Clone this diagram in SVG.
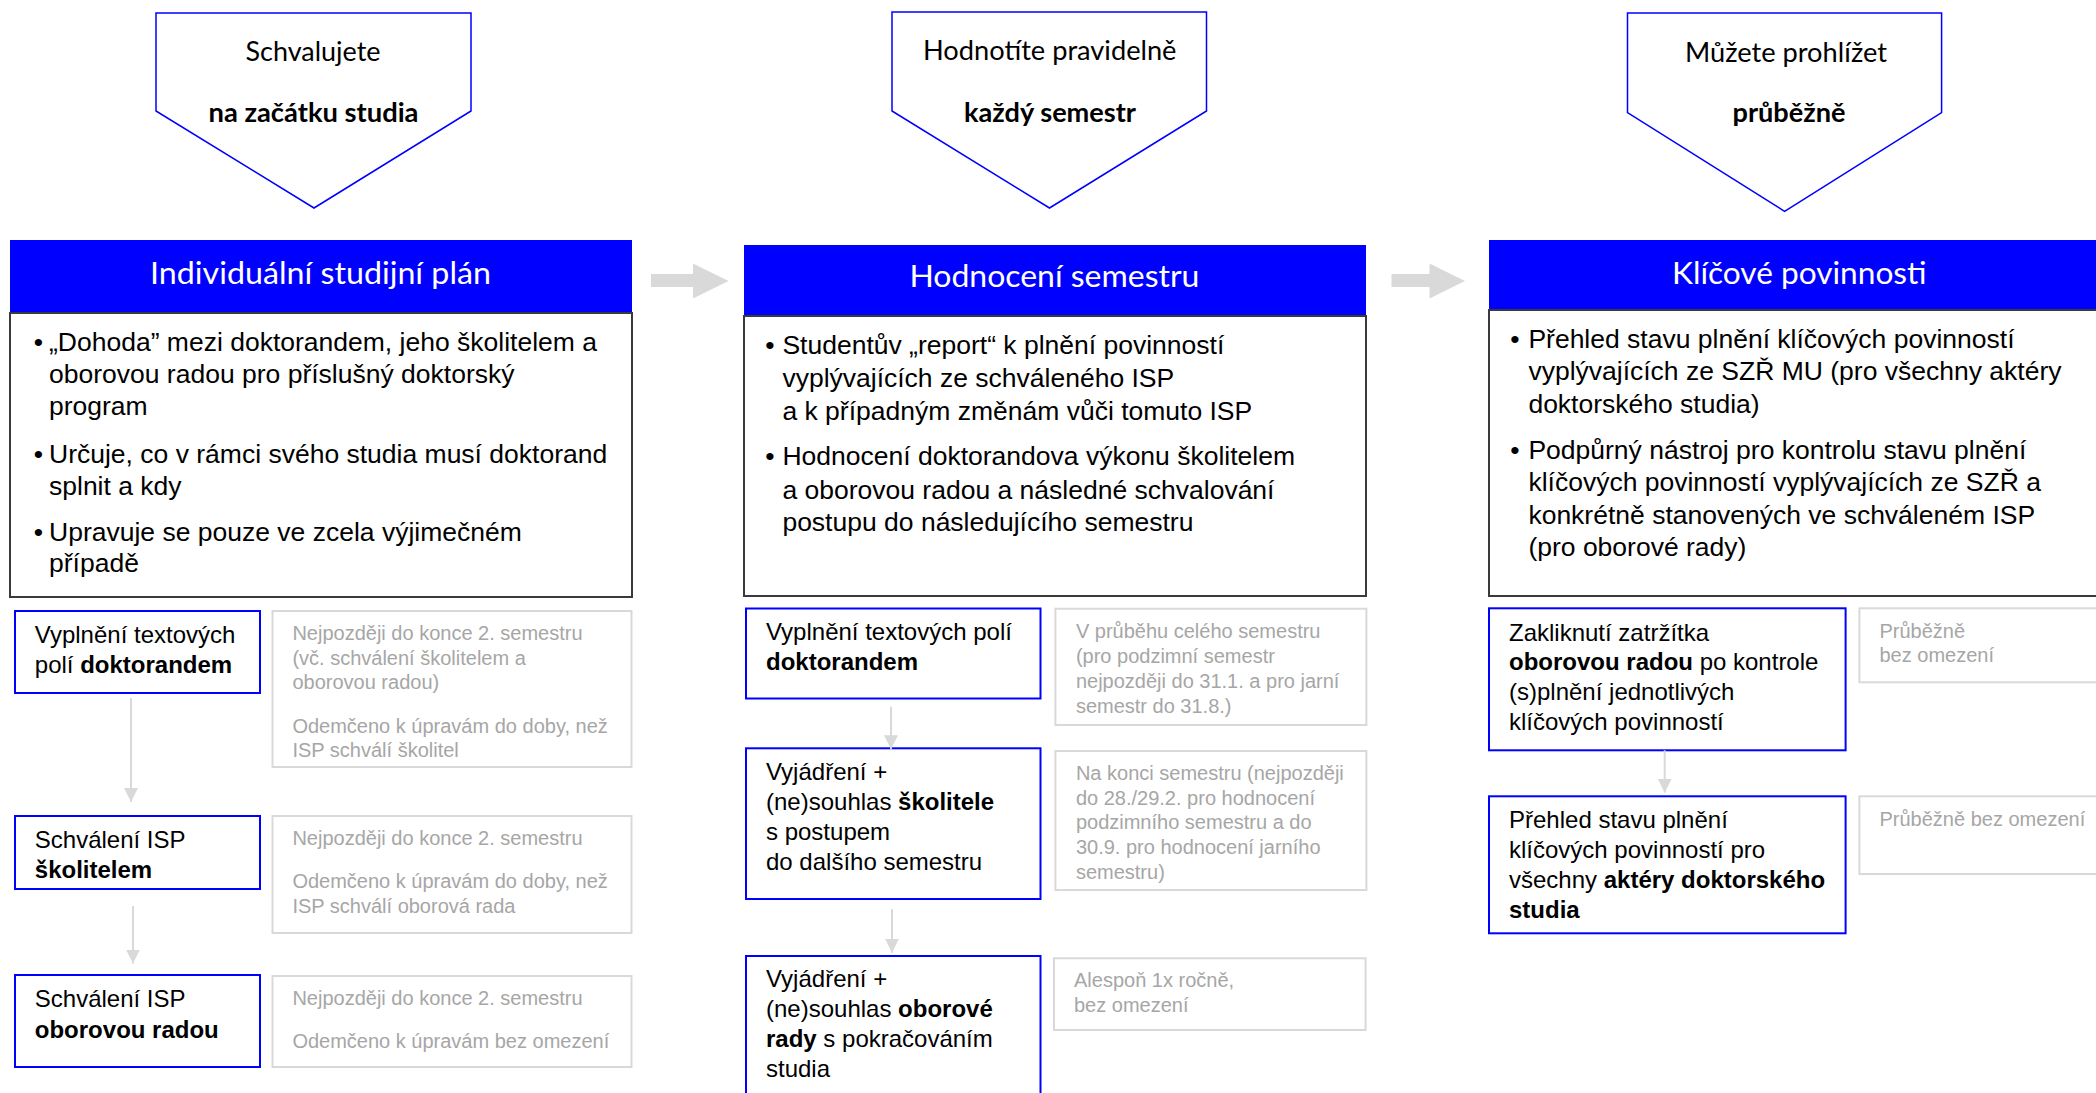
<svg xmlns="http://www.w3.org/2000/svg" width="2096" height="1093" viewBox="0 0 2096 1093">
<style>
.pent{fill:#fff;stroke:#0000ff;stroke-width:1.5}
.ptxt{font-family:Lato,"Open Sans",sans-serif;font-size:27px;fill:#000}
.pb{font-weight:bold}
.hdr{fill:#0000ff}
.htxt{font-family:Lato,"Open Sans",sans-serif;font-size:31px;fill:#fff}
.body{fill:#fff;stroke:#3a3a3a;stroke-width:2}
.btxt{font-family:"Liberation Sans",Arial,sans-serif;font-size:26.5px;fill:#000}
.step{fill:#fff;stroke:#0000ff;stroke-width:2}
.stxt{font-family:"Liberation Sans",Arial,sans-serif;font-size:24px;fill:#000}
.note{fill:#fff;stroke:#d9d9d9;stroke-width:2}
.ntxt{font-family:"Liberation Sans",Arial,sans-serif;font-size:20px;fill:#a6a6a6}
.b{font-weight:bold}
.conn{stroke:#d9d9d9;stroke-width:2;fill:none}
.block{fill:#d9d9d9}
</style>
<defs>
<marker id="ah" markerUnits="userSpaceOnUse" markerWidth="14" markerHeight="14" refX="14" refY="7" orient="auto">
<path d="M0,0 L14,7 L0,14 z" fill="#d9d9d9"/>
</marker>
</defs>

<!-- Column 1 -->
<g id="pent1">
<polygon class="pent" points="156,13 471,13 471,111 314,208 156,111"/>
<text class="ptxt" x="245.5" y="61" textLength="135" lengthAdjust="spacingAndGlyphs">Schvalujete</text>
<text class="ptxt pb" x="208.5" y="122" textLength="210" lengthAdjust="spacingAndGlyphs">na začátku studia</text>
</g>
<g id="isp">
<rect class="hdr" x="10" y="240" width="622" height="72"/>
<text class="htxt" x="150" y="284" textLength="341" lengthAdjust="spacingAndGlyphs">Individuální studijní plán</text>
<rect class="body" x="10" y="313" width="622" height="284"/>
<text class="btxt" x="38.5" y="350.7" text-anchor="middle">•</text>
<text class="btxt" x="49" y="350.7">„Dohoda” mezi doktorandem, jeho školitelem a</text>
<text class="btxt" x="49" y="383.3">oborovou radou pro příslušný doktorský</text>
<text class="btxt" x="49" y="415">program</text>
<text class="btxt" x="38.5" y="463.3" text-anchor="middle">•</text>
<text class="btxt" x="49" y="463.3">Určuje, co v rámci svého studia musí doktorand</text>
<text class="btxt" x="49" y="495">splnit a kdy</text>
<text class="btxt" x="38.5" y="540.7" text-anchor="middle">•</text>
<text class="btxt" x="49" y="540.7">Upravuje se pouze ve zcela výjimečném</text>
<text class="btxt" x="49" y="571.7">případě</text>
</g>
<g id="isp-step1">
<rect class="step" x="15" y="611" width="245" height="82"/>
<text class="stxt" x="34.8" y="643.3">Vyplnění textových</text>
<text class="stxt" x="34.8" y="673.3">polí <tspan class="b">doktorandem</tspan></text>
</g>
<g id="isp-note1">
<rect class="note" x="272.5" y="611" width="359" height="156"/>
<text class="ntxt" x="292.4" y="640">Nejpozději do konce 2. semestru</text>
<text class="ntxt" x="292.4" y="665">(vč. schválení školitelem a</text>
<text class="ntxt" x="292.4" y="689.3">oborovou radou)</text>
<text class="ntxt" x="292.4" y="732.7">Odemčeno k úpravám do doby, než</text>
<text class="ntxt" x="292.4" y="756.7">ISP schválí školitel</text>
</g>
<g id="isp-step2">
<rect class="step" x="15" y="816" width="245" height="73"/>
<text class="stxt" x="34.8" y="848.3">Schválení ISP</text>
<text class="stxt b" x="34.8" y="878.3">školitelem</text>
</g>
<g id="isp-note2">
<rect class="note" x="272.5" y="816" width="359" height="117"/>
<text class="ntxt" x="292.4" y="845">Nejpozději do konce 2. semestru</text>
<text class="ntxt" x="292.4" y="888.3">Odemčeno k úpravám do doby, než</text>
<text class="ntxt" x="292.4" y="913.3">ISP schválí oborová rada</text>
</g>
<g id="isp-step3">
<rect class="step" x="15" y="975" width="245" height="92"/>
<text class="stxt" x="34.8" y="1007.3">Schválení ISP</text>
<text class="stxt b" x="34.8" y="1038.3">oborovou radou</text>
</g>
<g id="isp-note3">
<rect class="note" x="272.5" y="976" width="359" height="91"/>
<text class="ntxt" x="292.4" y="1005">Nejpozději do konce 2. semestru</text>
<text class="ntxt" x="292.4" y="1048.3">Odemčeno k úpravám bez omezení</text>
</g>

<!-- Column 2 -->
<g id="pent2">
<polygon class="pent" points="892,12 1206.5,12 1206.5,111 1049.5,208 892,111"/>
<text class="ptxt" x="923" y="60.4" textLength="253.5" lengthAdjust="spacingAndGlyphs">Hodnotíte pravidelně</text>
<text class="ptxt pb" x="964" y="121.5" textLength="172" lengthAdjust="spacingAndGlyphs">každý semestr</text>
</g>
<g id="sem">
<rect class="hdr" x="744" y="245" width="622" height="71"/>
<text class="htxt" x="909.4" y="287.4" textLength="290" lengthAdjust="spacingAndGlyphs">Hodnocení semestru</text>
<rect class="body" x="744" y="316" width="622" height="280"/>
<text class="btxt" x="770" y="353.5" text-anchor="middle">•</text>
<text class="btxt" x="782.4" y="353.5">Studentův „report“ k plnění povinností</text>
<text class="btxt" x="782.4" y="386.7">vyplývajících ze schváleného ISP</text>
<text class="btxt" x="782.4" y="420.3">a k případným změnám vůči tomuto ISP</text>
<text class="btxt" x="770" y="465.4" text-anchor="middle">•</text>
<text class="btxt" x="782.4" y="465.4">Hodnocení doktorandova výkonu školitelem</text>
<text class="btxt" x="782.4" y="498.7">a oborovou radou a následné schvalování</text>
<text class="btxt" x="782.4" y="531">postupu do následujícího semestru</text>
</g>
<g id="sem-step1">
<rect class="step" x="746" y="608.5" width="294.5" height="90"/>
<text class="stxt" x="766" y="640">Vyplnění textových polí</text>
<text class="stxt b" x="766" y="670">doktorandem</text>
</g>
<g id="sem-note1">
<rect class="note" x="1055.4" y="608.7" width="311" height="116.3"/>
<text class="ntxt" x="1075.9" y="638.3">V průběhu celého semestru</text>
<text class="ntxt" x="1075.9" y="662.7">(pro podzimní semestr</text>
<text class="ntxt" x="1075.9" y="687.7">nejpozději do 31.1. a pro jarní</text>
<text class="ntxt" x="1075.9" y="712.7">semestr do 31.8.)</text>
</g>
<g id="sem-step2">
<rect class="step" x="746" y="748.3" width="294.5" height="150.7"/>
<text class="stxt" x="766" y="780">Vyjádření +</text>
<text class="stxt" x="766" y="810">(ne)souhlas <tspan class="b">školitele</tspan></text>
<text class="stxt" x="766" y="840">s postupem</text>
<text class="stxt" x="766" y="870">do dalšího semestru</text>
</g>
<g id="sem-note2">
<rect class="note" x="1055.4" y="751" width="311" height="139"/>
<text class="ntxt" x="1075.9" y="780">Na konci semestru (nejpozději</text>
<text class="ntxt" x="1075.9" y="805">do 28./29.2. pro hodnocení</text>
<text class="ntxt" x="1075.9" y="829.3">podzimního semestru a do</text>
<text class="ntxt" x="1075.9" y="854.3">30.9. pro hodnocení jarního</text>
<text class="ntxt" x="1075.9" y="879.3">semestru)</text>
</g>
<g id="sem-step3">
<rect class="step" x="746" y="956" width="294.5" height="150"/>
<text class="stxt" x="766" y="987.3">Vyjádření +</text>
<text class="stxt" x="766" y="1017.3">(ne)souhlas <tspan class="b">oborové</tspan></text>
<text class="stxt" x="766" y="1047.3"><tspan class="b">rady</tspan> s pokračováním</text>
<text class="stxt" x="766" y="1077.3">studia</text>
</g>
<g id="sem-note3">
<rect class="note" x="1054" y="958.3" width="311.6" height="71.7"/>
<text class="ntxt" x="1074" y="986.7">Alespoň 1x ročně,</text>
<text class="ntxt" x="1074" y="1011.7">bez omezení</text>
</g>

<!-- Column 3 -->
<g id="pent3">
<polygon class="pent" points="1627.5,13 1941.6,13 1941.6,112.7 1784.6,211.3 1627.5,112.7"/>
<text class="ptxt" x="1685" y="62" textLength="202" lengthAdjust="spacingAndGlyphs">Můžete prohlížet</text>
<text class="ptxt pb" x="1732.5" y="122" textLength="113" lengthAdjust="spacingAndGlyphs">průběžně</text>
</g>
<g id="kp">
<rect class="hdr" x="1489" y="240" width="622" height="70"/>
<text class="htxt" x="1672" y="283.5" textLength="254.5" lengthAdjust="spacingAndGlyphs">Klíčové povinnosti</text>
<rect class="body" x="1489" y="310" width="622" height="286"/>
<text class="btxt" x="1515" y="347.7" text-anchor="middle">•</text>
<text class="btxt" x="1528.4" y="347.7">Přehled stavu plnění klíčových povinností</text>
<text class="btxt" x="1528.4" y="380.2">vyplývajících ze SZŘ MU (pro všechny aktéry</text>
<text class="btxt" x="1528.4" y="412.7">doktorského studia)</text>
<text class="btxt" x="1515" y="458.5" text-anchor="middle">•</text>
<text class="btxt" x="1528.4" y="458.5">Podpůrný nástroj pro kontrolu stavu plnění</text>
<text class="btxt" x="1528.4" y="491">klíčových povinností vyplývajících ze SZŘ a</text>
<text class="btxt" x="1528.4" y="523.5">konkrétně stanovených ve schváleném ISP</text>
<text class="btxt" x="1528.4" y="556">(pro oborové rady)</text>
</g>
<g id="kp-step1">
<rect class="step" x="1489" y="608.3" width="356.6" height="142"/>
<text class="stxt" x="1509" y="640.7">Zakliknutí zatržítka</text>
<text class="stxt" x="1509" y="670"><tspan class="b">oborovou radou</tspan> po kontrole</text>
<text class="stxt" x="1509" y="700">(s)plnění jednotlivých</text>
<text class="stxt" x="1509" y="730">klíčových povinností</text>
</g>
<g id="kp-note1">
<rect class="note" x="1859.4" y="608.3" width="252" height="74"/>
<text class="ntxt" x="1879.5" y="638.3">Průběžně</text>
<text class="ntxt" x="1879.5" y="661.7">bez omezení</text>
</g>
<g id="kp-step2">
<rect class="step" x="1489" y="796.3" width="356.6" height="137"/>
<text class="stxt" x="1509" y="828.3">Přehled stavu plnění</text>
<text class="stxt" x="1509" y="858.3">klíčových povinností pro</text>
<text class="stxt" x="1509" y="888.3">všechny <tspan class="b">aktéry doktorského</tspan></text>
<text class="stxt b" x="1509" y="918.3">studia</text>
</g>
<g id="kp-note2">
<rect class="note" x="1859.4" y="796.3" width="252" height="77.7"/>
<text class="ntxt" x="1879.5" y="826">Průběžně bez omezení</text>
</g>

<!-- Connectors -->
<g id="connectors">
<polygon class="block" points="651,274 693,274 693,263.5 728.5,281 693,298.5 693,287 651,287"/>
<polygon class="block" points="1391.5,274 1429.5,274 1429.5,263.5 1465,281 1429.5,298.5 1429.5,287 1391.5,287"/>
<line class="conn" x1="131" y1="698" x2="131" y2="802" marker-end="url(#ah)"/>
<line class="conn" x1="133" y1="906" x2="133" y2="963.5" marker-end="url(#ah)"/>
<line class="conn" x1="891" y1="706.7" x2="891" y2="749.3" marker-end="url(#ah)"/>
<line class="conn" x1="892" y1="909.3" x2="892" y2="952.7" marker-end="url(#ah)"/>
<line class="conn" x1="1664.7" y1="750.3" x2="1664.7" y2="792.7" marker-end="url(#ah)"/>
</g>
</svg>
